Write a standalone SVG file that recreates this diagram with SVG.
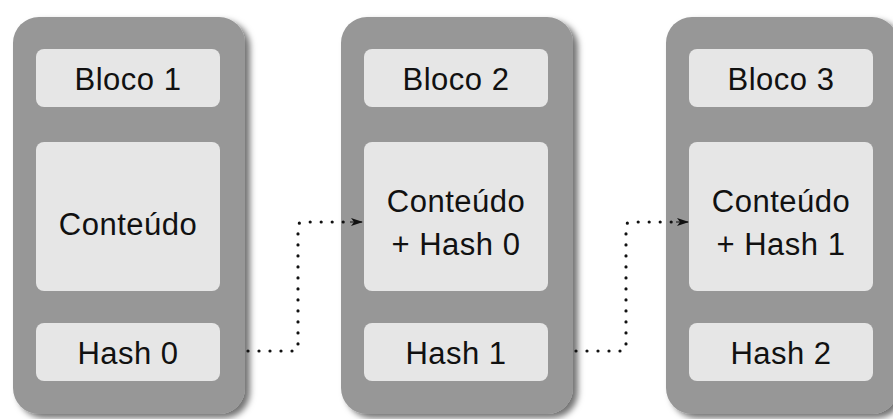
<svg xmlns="http://www.w3.org/2000/svg" width="893" height="419" viewBox="0 0 893 419">
  <defs>
    <filter id="shadow" x="-10%" y="-10%" width="125%" height="125%">
      <feGaussianBlur in="SourceAlpha" stdDeviation="3"/>
      <feOffset dx="5" dy="4" result="blur"/>
      <feFlood flood-color="#000" flood-opacity="0.55"/>
      <feComposite in2="blur" operator="in"/>
      <feMerge>
        <feMergeNode/>
        <feMergeNode in="SourceGraphic"/>
      </feMerge>
    </filter>
    <marker id="arrow" viewBox="0 0 12 10" refX="11" refY="5" markerWidth="12" markerHeight="10" markerUnits="userSpaceOnUse" orient="auto">
      <path d="M0,1 L12,5 L0,9 L3,5 Z" fill="#111"/>
    </marker>
  </defs>
  <style>
    .outer { fill: #979797; filter: url(#shadow); }
    .inner { fill: #e6e6e6; }
    text { font-family: "Liberation Sans", Arial, sans-serif; font-size: 31px; letter-spacing: 0.5px; fill: #111; text-anchor: middle; }
    .link { fill: none; stroke: #111; stroke-width: 3.2; stroke-linecap: round; stroke-dasharray: 0 11; }
  </style>
  <rect width="893" height="419" fill="#fff"/>

  <g id="block1">
    <rect class="outer" x="13" y="17" width="232" height="397" rx="26"/>
    <rect class="inner" x="36" y="49" width="184" height="58" rx="8"/>
    <rect class="inner" x="36" y="142" width="184" height="149" rx="8"/>
    <rect class="inner" x="36" y="323" width="184" height="58" rx="8"/>
    <text x="128" y="90">Bloco 1</text>
    <text x="128" y="235">Conteúdo</text>
    <text x="128" y="364">Hash 0</text>
  </g>

  <g id="block2">
    <rect class="outer" x="341" y="17" width="232" height="397" rx="26"/>
    <rect class="inner" x="364" y="49" width="184" height="58" rx="8"/>
    <rect class="inner" x="364" y="142" width="184" height="149" rx="8"/>
    <rect class="inner" x="364" y="323" width="184" height="58" rx="8"/>
    <text x="456" y="90">Bloco 2</text>
    <text x="456" y="212">Conteúdo</text>
    <text x="456" y="255">+ Hash 0</text>
    <text x="456" y="364">Hash 1</text>
  </g>

  <g id="block3">
    <rect class="outer" x="666" y="17" width="232" height="397" rx="26"/>
    <rect class="inner" x="689" y="49" width="184" height="58" rx="8"/>
    <rect class="inner" x="689" y="142" width="184" height="149" rx="8"/>
    <rect class="inner" x="689" y="323" width="184" height="58" rx="8"/>
    <text x="781" y="90">Bloco 3</text>
    <text x="781" y="212">Conteúdo</text>
    <text x="781" y="255">+ Hash 1</text>
    <text x="781" y="364">Hash 2</text>
  </g>

  <g id="connectors">
    <path class="link" d="M248,351 L293,351 Q298,351 298,346 L298,227 Q298,222 303,222 L352,222"/>
    <path d="M350,222 L362,222" stroke="#111" stroke-width="1" marker-end="url(#arrow)"/>
    <path class="link" d="M576,351 L621,351 Q626,351 626,346 L626,227 Q626,222 631,222 L678,222"/>
    <path d="M676,222 L688,222" stroke="#111" stroke-width="1" marker-end="url(#arrow)"/>
  </g>
</svg>
